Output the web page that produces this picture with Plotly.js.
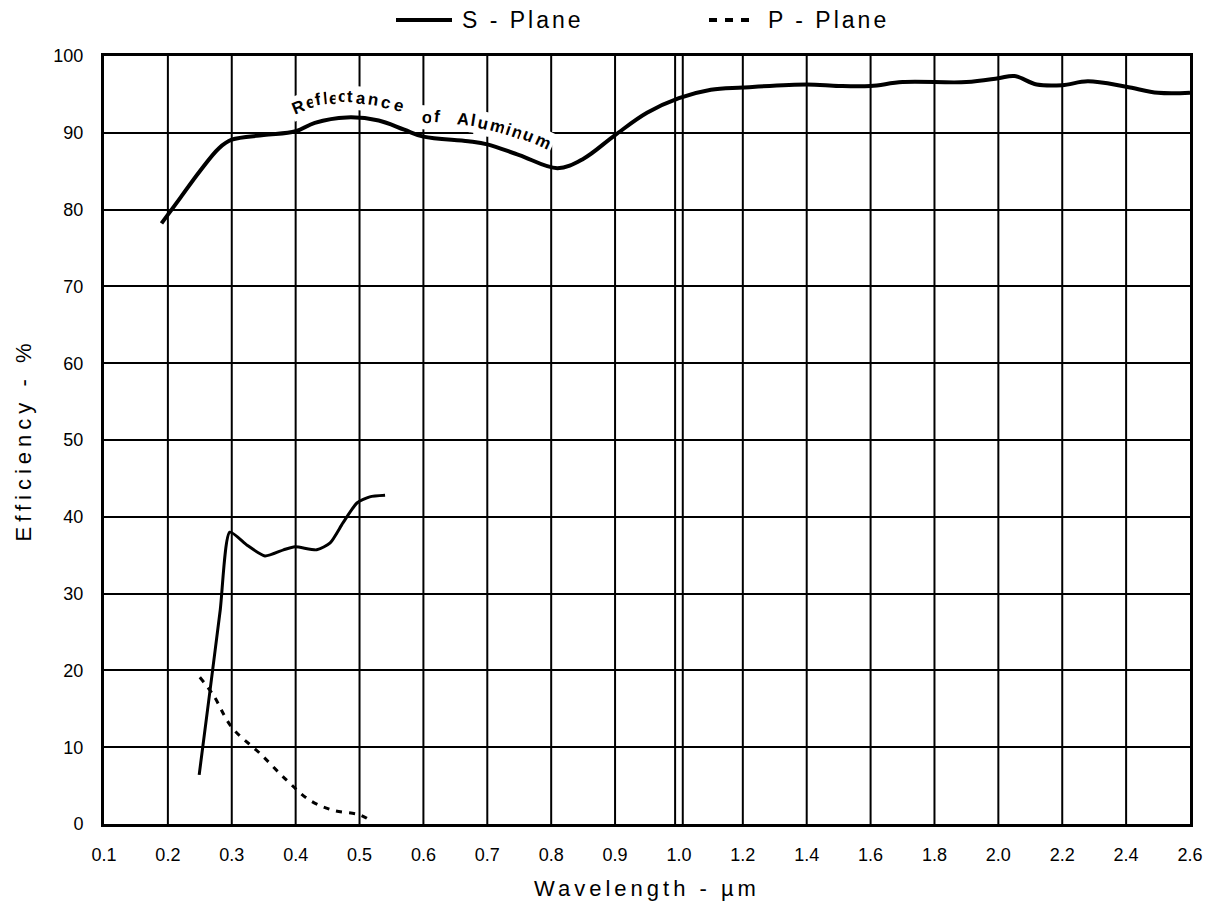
<!DOCTYPE html>
<html><head><meta charset="utf-8">
<script src="https://cdn.plot.ly/plotly-3.0.1.min.js"></script>
<style>html,body{margin:0;padding:0;background:#fff}#chart{width:1217px;height:907px}</style>
</head><body><div id="chart"></div>
<script>
// ---- data ----
const tickWavelengths = [0.1,0.2,0.3,0.4,0.5,0.6,0.7,0.8,0.9,1.0,1.2,1.4,1.6,1.8,2.0,2.2,2.4,2.6];
const tickLabels = ['0.1','0.2','0.3','0.4','0.5','0.6','0.7','0.8','0.9','1.0','1.2','1.4','1.6','1.8','2.0','2.2','2.4','2.6'];
const yTicks = [0,10,20,30,40,50,60,70,80,90,100];

const aluminumWavelength = [0.19,0.22,0.25,0.28,0.30,0.35,0.40,0.43,0.48,0.53,0.57,0.60,0.67,0.70,0.75,0.81,0.85,0.90,0.95,1.0,1.1,1.2,1.4,1.5,1.6,1.7,1.9,2.0,2.05,2.12,2.2,2.28,2.4,2.5,2.6];
const aluminumReflectance = [78.2,81.6,85.0,88.0,89.1,89.7,90.2,91.3,92.0,91.6,90.4,89.5,88.9,88.5,87.1,85.4,86.6,89.7,92.6,94.5,95.6,95.9,96.3,96.1,96.1,96.6,96.6,97.1,97.4,96.3,96.2,96.7,96.0,95.2,95.2];

const sPlaneWavelength = [0.249,0.266,0.282,0.297,0.324,0.352,0.381,0.399,0.433,0.454,0.474,0.496,0.516,0.54];
const sPlaneEfficiency = [6.4,17.4,27.9,38.0,36.3,34.9,35.7,36.1,35.7,36.6,39.2,41.8,42.6,42.8];

const pPlaneWavelength = [0.25,0.271,0.30,0.344,0.386,0.422,0.458,0.50,0.516];
const pPlaneEfficiency = [19.1,16.8,12.6,9.2,5.7,3.1,1.8,1.2,0.5];

const curveLabel = 'Reflectance of Aluminum';

// piecewise axis: 0.1 steps up to 1.0, 0.2 steps after
function pos(w){ return w <= 1 ? (w - 0.1) / 0.1 : 9 + (w - 1) / 0.2; }

// plot area in pixels (for placing decorations)
const L = 104, R = 1190, T = 56, B = 824;
const px2x = p => (p - L) / (R - L);
const py2y = p => (B - p) / (B - T);

const FONT = 'Liberation Sans, Arial, Helvetica, sans-serif';

const traces = [
  {x: aluminumWavelength.map(pos), y: aluminumReflectance, mode: 'lines', name: 'Reflectance of Aluminum',
   line: {color: '#000', width: 4, shape: 'spline', smoothing: 1}, hoverinfo: 'skip'},
  {x: sPlaneWavelength.map(pos), y: sPlaneEfficiency, mode: 'lines', name: 'S - Plane',
   line: {color: '#000', width: 3, shape: 'spline', smoothing: 0.6}, hoverinfo: 'skip'},
  {x: pPlaneWavelength.map(pos), y: pPlaneEfficiency, mode: 'lines', name: 'P - Plane',
   line: {color: '#000', width: 3, shape: 'spline', dash: '6px,7px'}, hoverinfo: 'skip'}
];

// vertical grid lines (double line at 1.0)
const shapes = [];
tickWavelengths.forEach((w, i) => {
  if (i === 0 || i === tickWavelengths.length - 1) return;
  const xs = (w === 1.0) ? [pos(w) - 0.06, pos(w) + 0.06] : [pos(w)];
  xs.forEach(xv => shapes.push({type: 'line', xref: 'x', yref: 'paper', x0: xv, x1: xv, y0: 0, y1: 1,
    line: {color: '#000', width: 2}, layer: 'below'}));
});

// manual legend
shapes.push({type: 'line', xref: 'paper', yref: 'paper', x0: px2x(396), x1: px2x(452), y0: py2y(20), y1: py2y(20),
  line: {color: '#000', width: 4}});
shapes.push({type: 'line', xref: 'paper', yref: 'paper', x0: px2x(709), x1: px2x(750), y0: py2y(20), y1: py2y(20),
  line: {color: '#000', width: 4, dash: '8px,8px'}});

const annotations = [
  {xref: 'paper', yref: 'paper', x: px2x(460), y: py2y(20), xanchor: 'left', yanchor: 'middle', showarrow: false,
   text: '<span style="letter-spacing:3px">S - Plane</span>', font: {family: FONT, size: 23, color: '#000'}},
  {xref: 'paper', yref: 'paper', x: px2x(766), y: py2y(20), xanchor: 'left', yanchor: 'middle', showarrow: false,
   text: '<span style="letter-spacing:3px">P - Plane</span>', font: {family: FONT, size: 23, color: '#000'}}
];

// curved label letters along the aluminum curve: [pixel x, pixel y, rotation]
const letterPlaces = [
  [298,107,-22],[310,103,-16],[318,100,-10],[325,98,-6],[333,98,-3],[342,97,0],[350,97,2],[361,98,5],[373,100,9],[385,103,13],[398,106,17],
  null,
  [427,117,4],[437,116,6],
  null,
  [463,119,6],[473,120,9],[483,123,12],[497,127,15],[508,130,18],[517,133,20],[528,136,22],[543,141,25]
];
const chars = curveLabel.split('');
chars.forEach((c, i) => {
  const p = letterPlaces[i];
  if (!p) return;
  annotations.push({xref: 'paper', yref: 'paper', x: px2x(p[0]), y: py2y(p[1]), xanchor: 'center', yanchor: 'middle',
    showarrow: false, text: '<b>' + c + '</b>', textangle: p[2], bgcolor: '#fff', borderpad: 2,
    font: {family: FONT, size: 17, color: '#000'}});
});

const layout = {
  width: 1217, height: 907,
  margin: {l: L, r: 1217 - R, t: T, b: 907 - B},
  paper_bgcolor: '#fff', plot_bgcolor: '#fff',
  showlegend: false,
  font: {family: FONT, color: '#000'},
  xaxis: {
    range: [0, 17], tickmode: 'array', tickvals: tickWavelengths.map(pos), ticktext: tickLabels,
    showgrid: false, zeroline: false, showline: true, mirror: true, linecolor: '#000', linewidth: 3,
    ticks: 'outside', ticklen: 12, tickcolor: 'rgba(0,0,0,0)',
    tickfont: {family: FONT, size: 18, color: '#000'},
    title: {text: '<span style="letter-spacing:4px">Wavelength - µm</span>', font: {family: FONT, size: 22, color: '#000'}, standoff: 18}
  },
  yaxis: {
    range: [0, 100], tickmode: 'array', tickvals: yTicks,
    showgrid: true, gridcolor: '#000', gridwidth: 2, zeroline: false,
    showline: true, mirror: true, linecolor: '#000', linewidth: 3,
    ticks: 'outside', ticklen: 14, tickcolor: 'rgba(0,0,0,0)',
    tickfont: {family: FONT, size: 18, color: '#000'},
    title: {text: '<span style="letter-spacing:5px">Efficiency - %</span>', font: {family: FONT, size: 22, color: '#000'}, standoff: 16}
  },
  shapes: shapes,
  annotations: annotations
};

Plotly.newPlot('chart', traces, layout, {displayModeBar: false, staticPlot: true});
</script>
</body></html>
